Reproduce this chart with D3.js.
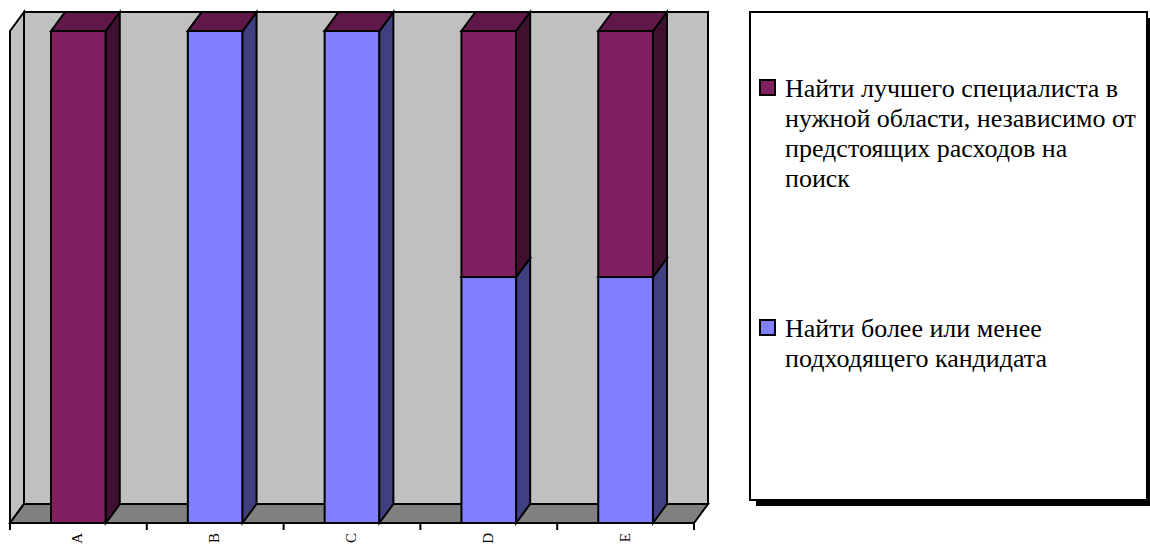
<!DOCTYPE html>
<html><head><meta charset="utf-8">
<script src="https://cdn.jsdelivr.net/npm/d3@7"></script>
<style>html,body{margin:0;padding:0;background:#fff;}svg{display:block;}</style>
</head><body>
<svg id="c" width="1150" height="546"></svg>
<script>
const categories = ["A","B","C","D","E"];
const seriesNames = ["Найти более или менее подходящего кандидата",
                     "Найти лучшего специалиста в нужной области, независимо от предстоящих расходов на поиск"];
const candidateValues = [0, 100, 100, 50, 50];
const specialistValues = [100, 0, 0, 50, 50];
const legendLines1 = ["Найти лучшего специалиста в","нужной области, независимо от","предстоящих расходов на","поиск"];
const legendLines2 = ["Найти более или менее","подходящего кандидата"];

const FONT = '"Times New Roman", "Liberation Serif", Tinos, serif';
const svg = d3.select("#c");
const x0 = 10, x1 = 694, yb = 523, yt = 31, dx = 14, dy = -19;
const x = d3.scaleBand().domain(categories).range([x0, x1]).padding(0);
const y = d3.scaleLinear().domain([0, 100]).range([yb, yt]);
const bw = x.bandwidth() * 0.4;
const sw = 2;

// walls
svg.append("rect").attr("x", x0+dx).attr("y", yt+dy).attr("width", x1-x0).attr("height", yb-yt)
  .attr("fill", "#C0C0C0").attr("stroke", "#000").attr("stroke-width", sw);
svg.append("polygon").attr("points", [[x0,yb],[x0+dx,yb+dy],[x0+dx,yt+dy],[x0,yt]].join(" "))
  .attr("fill", "#C0C0C0").attr("stroke", "#000").attr("stroke-width", sw);
svg.append("polygon").attr("points", [[x0,yb],[x1,yb],[x1+dx,yb+dy],[x0+dx,yb+dy]].join(" "))
  .attr("fill", "#808080").attr("stroke", "#000").attr("stroke-width", sw);

// axis ticks and labels
const gAxis = svg.append("g").attr("transform", `translate(0,${yb})`);
gAxis.append("line").attr("x1", x0).attr("x2", x1).attr("stroke", "#000").attr("stroke-width", sw);
const bounds = x.domain().map(d => x(d)).concat([x1]);
gAxis.selectAll("line.t").data(bounds).join("line").attr("class","t")
  .attr("x1", d => d).attr("x2", d => d).attr("y1", 0).attr("y2", 7).attr("stroke", "#000").attr("stroke-width", sw);
gAxis.selectAll("text").data(categories).join("text")
  .attr("transform", d => `translate(${x(d)+x.bandwidth()/2+4},10) rotate(-90)`)
  .attr("text-anchor", "end").style("font-family", FONT).style("font-size", "15px")
  .attr("fill", "#000").text(d => d);

// bars
const stackData = categories.map((c, i) => ({cat: c, s0: candidateValues[i], s1: specialistValues[i]}));
const stack = d3.stack().keys(["s0", "s1"])(stackData);
const fronts = ["#8080FF", "#802060"];
const sides = ["#404080", "#401030"];
const tops = ["#6060C0", "#601848"];
categories.forEach((c, i) => {
  const bx = x(c) + (x.bandwidth() - bw) / 2;
  stack.forEach((layer, k) => {
    const [v0, v1] = layer[i];
    const ya = y(v0), yz = y(v1);
    const g = svg.append("g");
    if (v1 > v0) {
      g.append("rect").attr("x", bx).attr("y", yz).attr("width", bw).attr("height", ya - yz)
        .attr("fill", fronts[k]).attr("stroke", "#000").attr("stroke-width", sw);
      g.append("polygon").attr("points", [[bx+bw,ya],[bx+bw+dx,ya+dy],[bx+bw+dx,yz+dy],[bx+bw,yz]].join(" "))
        .attr("fill", sides[k]).attr("stroke", "#000").attr("stroke-width", sw);
    }
    g.append("polygon").attr("points", [[bx,yz],[bx+bw,yz],[bx+bw+dx,yz+dy],[bx+dx,yz+dy]].join(" "))
      .attr("fill", tops[k]).attr("stroke", "#000").attr("stroke-width", sw);
  });
});

// legend
const L = {x: 750, y: 12, w: 397, h: 488};
svg.append("rect").attr("x", L.x+6).attr("y", L.y+6).attr("width", L.w).attr("height", L.h).attr("fill", "#000");
svg.append("rect").attr("x", L.x).attr("y", L.y).attr("width", L.w).attr("height", L.h)
  .attr("fill", "#fff").attr("stroke", "#000").attr("stroke-width", sw);
const items = [
  {lines: legendLines1, color: fronts[1], sy: 80, base: 97},
  {lines: legendLines2, color: fronts[0], sy: 320, base: 337}
];
items.forEach(it => {
  svg.append("rect").attr("x", 760).attr("y", it.sy).attr("width", 15).attr("height", 15)
    .attr("fill", it.color).attr("stroke", "#000").attr("stroke-width", 2);
  const t = svg.append("text").style("font-family", FONT).style("font-size", "26px").attr("fill", "#000");
  it.lines.forEach((ln, j) => {
    t.append("tspan").attr("x", 785).attr("y", it.base + j * 30).text(ln);
  });
});
</script>
</body></html>
